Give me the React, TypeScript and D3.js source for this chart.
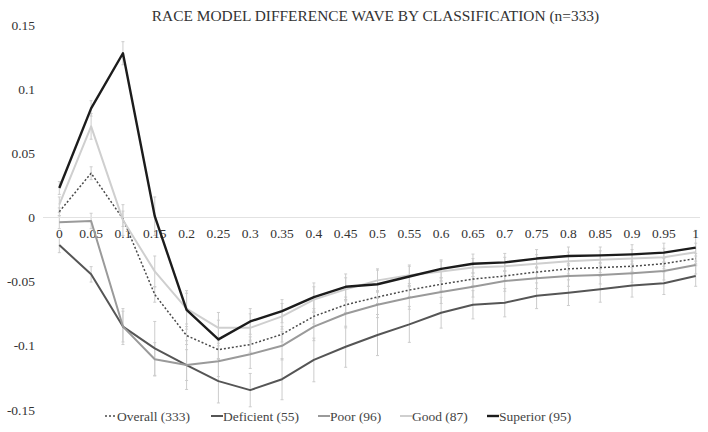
import React from "react";
import * as d3 from "d3";

const TITLE = "RACE MODEL DIFFERENCE WAVE BY CLASSIFICATION (n=333)";
const categories = [0, 0.05, 0.1, 0.15, 0.2, 0.25, 0.3, 0.35, 0.4, 0.45, 0.5, 0.55, 0.6, 0.65, 0.7, 0.75, 0.8, 0.85, 0.9, 0.95, 1];
const categoryLabels = ["0", "0.05", "0.1", "0.15", "0.2", "0.25", "0.3", "0.35", "0.4", "0.45", "0.5", "0.55", "0.6", "0.65", "0.7", "0.75", "0.8", "0.85", "0.9", "0.95", "1"];
const yTicks = [0.15, 0.1, 0.05, 0, -0.05, -0.1, -0.15];
const yTickLabels = ["0.15", "0.1", "0.05", "0", "-0.05", "-0.1", "-0.15"];

const overall = [0.0045, 0.0345, -0.001, -0.06, -0.092, -0.103, -0.099, -0.091, -0.077, -0.068, -0.062, -0.0565, -0.052, -0.048, -0.0456, -0.0425, -0.04, -0.039, -0.038, -0.036, -0.032];
const deficient = [-0.0214, -0.0443, -0.085, -0.102, -0.115, -0.1275, -0.1345, -0.126, -0.111, -0.1007, -0.0916, -0.0833, -0.0742, -0.068, -0.0664, -0.061, -0.0586, -0.056, -0.053, -0.0513, -0.0456];
const poor = [-0.0037, -0.0027, -0.085, -0.1105, -0.115, -0.112, -0.1066, -0.1, -0.085, -0.075, -0.068, -0.0625, -0.058, -0.054, -0.0495, -0.0474, -0.0456, -0.0448, -0.0435, -0.0417, -0.037];
const good = [0.01, 0.071, -0.002, -0.042, -0.071, -0.086, -0.086, -0.077, -0.064, -0.056, -0.049, -0.045, -0.042, -0.039, -0.038, -0.036, -0.034, -0.033, -0.032, -0.031, -0.027];
const superior = [0.023, 0.085, 0.128, 0.001, -0.072, -0.095, -0.081, -0.073, -0.062, -0.054, -0.052, -0.046, -0.04, -0.036, -0.035, -0.032, -0.03, -0.0295, -0.0287, -0.0274, -0.0235];

const overallErr = [0.003, 0.005, 0.006, 0.006, 0.007, 0.007, 0.006, 0.006, 0.006, 0.006, 0.005, 0.005, 0.005, 0.005, 0.004, 0.004, 0.004, 0.004, 0.004, 0.004, 0.004];
const deficientErr = [0.006, 0.006, 0.014, 0.021, 0.019, 0.017, 0.013, 0.016, 0.017, 0.016, 0.016, 0.014, 0.012, 0.011, 0.011, 0.01, 0.01, 0.01, 0.009, 0.0087, 0.008];
const poorErr = [0.005, 0.006, 0.012, 0.013, 0.012, 0.012, 0.011, 0.011, 0.011, 0.011, 0.01, 0.009, 0.009, 0.008, 0.008, 0.008, 0.008, 0.007, 0.007, 0.007, 0.007];
const goodErr = [0.006, 0.01, 0.012, 0.012, 0.012, 0.012, 0.011, 0.01, 0.01, 0.009, 0.009, 0.008, 0.008, 0.007, 0.007, 0.007, 0.007, 0.007, 0.007, 0.007, 0.007];
const superiorErr = [0.005, 0.006, 0.009, 0.015, 0.015, 0.015, 0.01, 0.009, 0.011, 0.01, 0.011, 0.008, 0.007, 0.0075, 0.007, 0.007, 0.007, 0.0065, 0.0075, 0.0074, 0.0135];

const seriesNames = ["Overall (333)", "Deficient (55)", "Poor (96)", "Good (87)", "Superior (95)"];
const seriesValues = [overall, deficient, poor, good, superior];
const seriesErrors = [overallErr, deficientErr, poorErr, goodErr, superiorErr];

const styles = [
  { color: "#4a4a4a", width: 1.5, dash: "2,2" },
  { color: "#555555", width: 2, dash: "" },
  { color: "#9a9a9a", width: 2, dash: "" },
  { color: "#cfcfcf", width: 2, dash: "" },
  { color: "#1c1c1c", width: 2.4, dash: "" },
];
const legendX = [105, 211, 318, 400, 487];

const FONT = "\"Liberation Serif\", \"Times New Roman\", serif";

export default function App() {
  const W = 708;
  const H = 432;
  const x = d3.scaleLinear().domain([0, 1]).range([59.3, 695.7]);
  const y = d3.scaleLinear().domain([-0.15, 0.15]).range([410, 25]);
  const line = d3
    .line<number>()
    .x((_, i) => x(categories[i]))
    .y((d) => y(d));

  return (
    <svg
      width={W}
      height={H}
      style={{ position: "absolute", left: 0, top: 0, background: "#fff", fontFamily: FONT }}
    >
      <rect width={W} height={H} fill="#fff" />
      <text x={375.5} y={21} textAnchor="middle" fontSize={15.4} fill="#333" style={{ fontFamily: FONT }}>
        {TITLE}
      </text>
      {yTicks.map((t, i) => (
        <text key={i} x={35} y={y(t) + 4.5} textAnchor="end" fontSize={13.5} fill="#333" style={{ fontFamily: FONT }}>
          {yTickLabels[i]}
        </text>
      ))}
      {seriesValues.map((vals, s) =>
        vals.map((v, i) => {
          const e = seriesErrors[s][i];
          const cx = x(categories[i]);
          return (
            <g key={`e${s}-${i}`} stroke="#cccccc" strokeWidth={1}>
              <line x1={cx} x2={cx} y1={y(v + e)} y2={y(v - e)} />
              <line x1={cx - 1.5} x2={cx + 1.5} y1={y(v + e)} y2={y(v + e)} />
              <line x1={cx - 1.5} x2={cx + 1.5} y1={y(v - e)} y2={y(v - e)} />
            </g>
          );
        })
      )}
      <line x1={43} x2={700} y1={y(0)} y2={y(0)} stroke="#e2e2e2" strokeWidth={1} />
      {categories.map((c, i) => (
        <text key={i} x={x(c)} y={y(0) + 20} textAnchor="middle" fontSize={13.5} fill="#333" style={{ fontFamily: FONT }}>
          {categoryLabels[i]}
        </text>
      ))}
      {seriesValues.map((vals, s) => (
        <path
          key={s}
          d={line(vals) || ""}
          fill="none"
          stroke={styles[s].color}
          strokeWidth={styles[s].width}
          strokeDasharray={styles[s].dash || undefined}
          strokeLinejoin="round"
        />
      ))}
      {seriesNames.map((n, s) => (
        <g key={n} transform={`translate(${legendX[s]},416)`}>
          <line
            x1={0}
            x2={12}
            y1={0}
            y2={0}
            stroke={styles[s].color}
            strokeWidth={styles[s].width}
            strokeDasharray={styles[s].dash || undefined}
          />
          <text x={12} y={4.5} fontSize={13.5} fill="#444" style={{ fontFamily: FONT }}>
            {n}
          </text>
        </g>
      ))}
    </svg>
  );
}
